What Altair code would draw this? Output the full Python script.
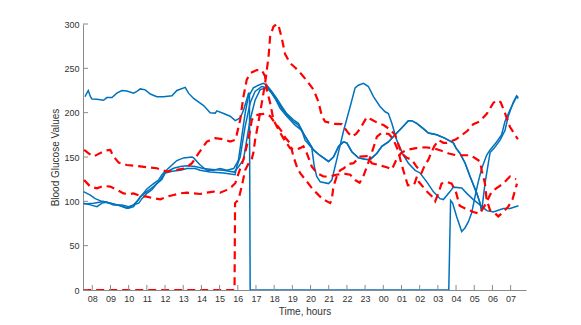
import altair as alt
import pandas as pd

# ---------------- data (hours since midnight of day 1; values mg/dL) ----------------
hour_ticks = list(range(8, 32))
y_ticks = [0, 50, 100, 150, 200, 250, 300]

# blue solid series
b1_h = [7.6, 7.67, 7.78, 7.9, 7.98, 8.26, 8.62, 8.8, 9.08, 9.35, 9.63, 9.9, 10.27, 10.45, 10.64, 10.91,
        11.19, 11.55, 11.92, 12.38, 12.65, 13.11, 13.29, 13.57, 14.12, 14.48, 14.76, 14.85, 15.22, 15.58,
        15.86, 16.13, 16.32, 16.45, 16.59, 16.64, 16.68, 27.6, 27.7, 27.81, 28.03, 28.31, 28.49, 28.68,
        28.86, 29.04, 29.22, 29.41, 29.68, 29.87, 30.23, 30.5, 30.69, 30.96, 31.33, 31.42]
b1_v = [218, 221, 225, 218, 215.5, 215, 214, 217, 217, 222, 225, 224.5, 222, 224, 226.8, 225.7,
        221, 218, 218, 219, 225, 228.5, 222, 216, 208, 200, 199.5, 202, 199, 196,
        191, 194, 203, 212, 222, 222, 0, 0, 101, 98, 83, 66, 70, 77,
        87, 105, 122, 137, 152, 158, 167, 175, 190, 203, 218, 216]

b2_h = [7.52, 7.89, 8.16, 8.53, 8.8, 9.17, 9.54, 9.9, 10.27, 10.55, 10.73, 11.0, 11.37, 11.64, 11.83,
        12.01, 12.38, 12.65, 13.02, 13.48, 13.57, 13.93, 14.3, 14.67, 15.03, 15.4, 15.77, 15.95, 16.04,
        16.22, 16.4, 16.58, 16.86, 17.13, 17.4, 17.59, 17.87, 18.14, 18.42, 18.69, 19.06, 19.33, 19.61,
        19.8, 20.16, 20.5, 20.99, 21.26, 21.54, 21.81, 21.99, 22.27, 22.63, 23.0, 23.27, 23.64, 23.92,
        24.28, 24.65, 25.02, 25.38, 25.56, 25.84, 26.2, 26.48, 26.94, 27.4, 27.85, 28.0, 28.22, 28.5,
        28.77, 29.14, 29.32, 29.41, 29.59, 29.87, 30.1, 30.42, 30.69, 30.87, 31.15, 31.33, 31.42]
b2_v = [111, 107, 103, 100, 99, 97, 95, 92, 96, 102, 107, 114, 120, 124, 130,
        134, 141, 146, 149, 150, 149, 141, 135, 135, 137, 135, 137, 143, 147,
        173, 199, 218, 228, 231, 233, 231, 224, 216, 207, 199, 192, 188, 177,
        170, 158, 152, 145, 150, 162, 167, 166, 156, 149, 147.5, 147, 154, 162,
        167, 175, 183, 191, 191, 188, 182, 177, 175, 171, 166, 160, 154, 143,
        128, 109, 98, 89, 120, 155, 160, 169, 180, 196, 212, 219, 217]

b3_h = [7.52, 7.89, 8.26, 8.53, 8.8, 9.17, 9.63, 10.0, 10.27, 10.55, 10.73, 11.0, 11.28, 11.55, 11.83,
        12.01, 12.38, 12.84, 13.2, 13.66, 13.93, 14.48, 15.21, 15.85, 15.95, 16.13, 16.4, 16.68, 16.95,
        17.32, 17.68, 18.05, 18.33, 18.69, 19.15, 19.52, 19.7, 20.07, 20.2, 20.34, 20.53, 20.99, 21.17,
        21.44, 21.81, 22.18, 22.45, 22.63, 22.91, 23.18, 23.46, 23.82, 24.1, 24.28, 24.47, 24.74, 25.1,
        25.38, 25.75, 26.02, 26.39, 26.75, 27.12, 27.3, 27.67, 27.85, 28.31, 28.59, 28.95, 29.32, 29.69,
        30.05, 30.6, 30.97, 31.43]
b3_v = [98, 96, 94, 98, 99, 96, 96, 94, 96, 98, 103, 109, 113, 120, 125,
        132, 134, 135, 137, 137, 135, 133, 132, 130, 140, 150, 184, 211, 224,
        229.5, 228, 216, 205, 196, 186, 180, 169, 160, 140, 128, 122, 120, 124,
        147, 179, 207, 228, 231, 233, 229.5, 218, 207, 201, 199, 188, 169, 152,
        143, 135, 132, 122, 111, 103, 102, 111, 116, 115, 109, 102, 96, 89.5,
        88, 92, 92, 95]

# fourth series: runs with the others, then lies on top of the B2 trace
b4_h = [7.52, 8.07, 8.62, 8.99, 9.35, 9.72, 10.0, 10.27, 10.64, 11.0, 11.37, 11.74, 12.01, 12.47,
        12.84, 13.2, 13.66, 14.1, 14.6, 15.2, 15.8, 16.04, 16.31, 16.49, 16.68, 16.95, 17.23, 17.59,
        17.87, 18.14, 18.42, 18.69, 19.06, 19.33, 19.61, 19.8, 20.16, 20.5, 20.99, 21.26, 21.54, 21.81,
        21.99, 22.27, 22.63, 23.0, 23.27, 23.64, 23.92, 24.28, 24.65, 25.02, 25.38, 25.56, 25.84, 26.2,
        26.48, 26.94, 27.4, 27.85, 28.0, 28.22, 28.5, 28.77, 29.14, 29.32, 29.41]
b4_v = [97, 97.8, 99.7, 97.8, 96, 94, 92.2, 94, 105.3, 111, 116.6, 124.1, 132.4, 137.3,
        139.2, 140, 139.2, 137, 136, 135, 133, 139, 147, 169, 192, 214, 226, 228,
        222, 214, 205, 198, 190, 186, 176, 170, 158, 152, 145, 150, 162, 167,
        166, 156, 149, 147.5, 147, 154, 162, 167, 175, 183, 191, 191, 188, 182,
        177, 175, 171, 166, 160, 154, 143, 128, 109, 98, 89]

# red dashed series
r1_h = [7.5, 15.82, 15.85, 16.04, 16.22, 16.4, 16.6, 16.77, 16.86, 16.95, 17.14, 17.32, 17.5, 17.69,
        17.78, 17.96, 18.14, 18.23, 18.42, 18.6, 18.87, 19.15, 19.43, 19.8, 20.16, 20.44, 20.62, 20.8,
        21.26, 21.72, 22.08, 22.27, 22.5, 22.73, 23.09, 23.37, 23.73, 24.01, 24.38, 24.65, 24.83, 25.02,
        25.29, 25.57, 25.8, 26.1, 26.29, 26.48, 26.6, 26.8, 27.05, 27.3, 27.5, 28.0, 28.2, 28.6, 28.95,
        29.3, 29.7, 30.05, 30.24, 30.45, 30.7, 30.96, 31.4]
r1_v = [0, 0, 98, 102, 117, 135, 143, 148, 155, 169, 190, 211, 233, 263,
        286, 297, 300, 299, 284, 266, 256, 251, 245, 236, 226, 212, 196, 190,
        187.5, 187, 177, 173, 176, 182, 195, 192, 188, 186, 181, 175, 164, 154,
        149, 147, 140, 132, 141, 147, 153, 162, 169, 166, 166, 170, 173, 179, 187,
        190, 199, 211, 214, 212, 199, 184, 170]

r2_h = [7.55, 7.8, 8.07, 8.35, 8.71, 8.99, 9.17, 9.45, 9.9, 10.45, 11.0, 11.55, 12.1, 12.65, 13.11,
        13.48, 13.84, 14.3, 14.76, 15.22, 15.58, 15.86, 15.94, 16.13, 16.31, 16.49, 16.68, 17.04, 17.32,
        17.5, 17.59, 17.78, 17.96, 18.23, 18.51, 18.69, 18.87, 19.15, 19.42, 19.61, 19.8, 20.07, 20.35,
        20.71, 21.08, 21.4, 21.9, 22.18, 22.45, 22.7, 22.9, 23.2, 23.45, 23.65, 23.9, 24.3, 24.55, 24.8,
        25.0, 25.2, 25.35, 25.7, 25.85, 25.95, 26.2, 26.4, 26.7, 26.85, 27.03, 27.2, 27.5, 27.76, 28.0,
        28.2, 28.5, 28.95, 29.3, 29.6, 29.96, 30.23, 30.6, 30.96, 31.3]
r2_v = [158, 154, 150.5, 153.5, 157.3, 158, 150.5, 143.7, 141, 140, 138.4, 137.3, 133.5, 135.4, 137.3,
        143, 154.2, 167.4, 171.2, 170, 167.4, 169.3, 175, 192, 218, 237, 244.5, 248, 248,
        241, 226, 211, 192, 181, 171, 165.5, 160, 158, 160, 162, 154, 139, 132,
        128, 128, 130, 131, 130, 124, 121, 128, 145, 160, 173, 177, 176, 170, 158,
        142, 128, 118, 119, 128, 122, 116, 111, 105, 100, 109, 120, 122, 120, 110,
        95, 92, 88, 86, 96, 111, 115, 120, 128, 125]

r3_h = [7.55, 7.89, 8.26, 8.62, 8.99, 9.36, 9.72, 10.0, 10.27, 10.64, 11.0, 11.37, 11.74, 12.1, 12.47,
        12.83, 13.2, 13.57, 13.93, 14.3, 14.67, 15.03, 15.4, 15.67, 15.86, 16.1, 16.31, 16.49, 16.68,
        16.77, 16.95, 17.23, 17.5, 17.78, 18.05, 18.23, 18.42, 18.6, 18.88, 19.06, 19.25, 19.43, 19.89,
        20.07, 20.44, 20.71, 21.08, 21.17, 21.26, 21.44, 21.63, 21.81, 22.09, 22.36, 22.73, 23.09, 23.37,
        23.73, 24.19, 24.47, 24.74, 25.0, 25.3, 25.8, 26.3, 26.75, 27.2, 27.6, 28.0, 28.4, 28.8, 29.1,
        29.32, 29.41, 29.59, 29.68, 29.87, 30.14, 30.32, 30.6, 30.87, 31.1, 31.35]
r3_v = [124, 116.6, 114.7, 117.4, 116.6, 112.9, 109, 108, 109, 106, 105.3, 103.4, 102.3, 105.3, 107.2,
        109, 109.8, 109, 108.3, 109.8, 111, 109.8, 112.9, 116.6, 120.4, 135, 147, 162, 180,
        192, 197, 198, 199, 196, 188, 184, 178.7, 172, 165.5, 150.5, 139, 131.7, 120,
        115, 107, 102, 98, 102, 117, 128, 135, 137, 142, 143, 150.5, 151, 143,
        141, 138.4, 136, 148, 155, 158, 160, 161, 160, 157, 154, 152, 152, 152, 148,
        145, 135, 120, 102, 90, 86.5, 83, 88, 94, 102, 120]


def frame(name, hs, vs):
    return pd.DataFrame({"series": name, "hour": hs, "value": vs, "idx": list(range(len(hs)))})


blue_df = pd.concat([frame("B1", b1_h, b1_v), frame("B2", b2_h, b2_v),
                     frame("B3", b3_h, b3_v), frame("B4", b4_h, b4_v)], ignore_index=True)
red_df = pd.concat([frame("R1", r1_h, r1_v), frame("R2", r2_h, r2_v),
                    frame("R3", r3_h, r3_v)], ignore_index=True)
xt_df = pd.DataFrame({"hour": hour_ticks})
yt_df = pd.DataFrame({"value": y_ticks})

W, H = 443, 266
FONT = "Liberation Sans"
AXIS_GRAY = "#8a8a8a"
TEXT = "#333333"

xs = alt.Scale(domain=[7.489, 31.846], nice=False, zero=False)
ys = alt.Scale(domain=[0, 300], nice=False, zero=False)

x_axis = alt.Axis(values=hour_ticks, tickSize=0, grid=False, title="Time, hours",
                  labelExpr="(datum.value % 24) < 10 ? '0' + (datum.value % 24) : '' + (datum.value % 24)",
                  labelFont=FONT, labelFontSize=9, labelColor=TEXT, labelPadding=4,
                  titleFont=FONT, titleFontSize=10, titleFontWeight="normal", titleColor=TEXT,
                  titlePadding=3, domainColor=AXIS_GRAY, domainWidth=1, labelFlush=False)
y_axis = alt.Axis(values=y_ticks, tickSize=0, grid=False, title="Blood Glucose Values",
                  labelFont=FONT, labelFontSize=9, labelColor=TEXT, labelPadding=4,
                  titleFont=FONT, titleFontSize=10, titleFontWeight="normal", titleColor=TEXT,
                  titlePadding=3, domainColor=AXIS_GRAY, domainWidth=1)

X = alt.X("hour:Q", scale=xs, axis=x_axis)
Y = alt.Y("value:Q", scale=ys, axis=y_axis)

blue = alt.Chart(blue_df).mark_line(color="#0072BD", strokeWidth=1.5, clip=True).encode(
    x=X, y=Y, detail="series:N", order="idx:Q",
)
red = alt.Chart(red_df).mark_line(color="#FF0000", strokeWidth=2.2, strokeDash=[8, 5], clip=True).encode(
    x=X, y=Y, detail="series:N", order="idx:Q",
)
xticks = alt.Chart(xt_df).mark_rule(color=AXIS_GRAY, strokeWidth=1).encode(
    x=X, y=alt.value(H), y2=alt.value(H - 5),
)
yticks = alt.Chart(yt_df).mark_rule(color=AXIS_GRAY, strokeWidth=1).encode(
    y=Y, x=alt.value(0), x2=alt.value(5),
)

chart = alt.layer(blue, red, xticks, yticks).properties(
    width=W, height=H,
    autosize=alt.AutoSizeParams(type="none"),
    padding={"left": 75, "top": 16, "right": 47, "bottom": 27},
    background="white",
).configure_view(stroke=None)

chart.save("out.html", embed_options={"renderer": "svg", "actions": False})
